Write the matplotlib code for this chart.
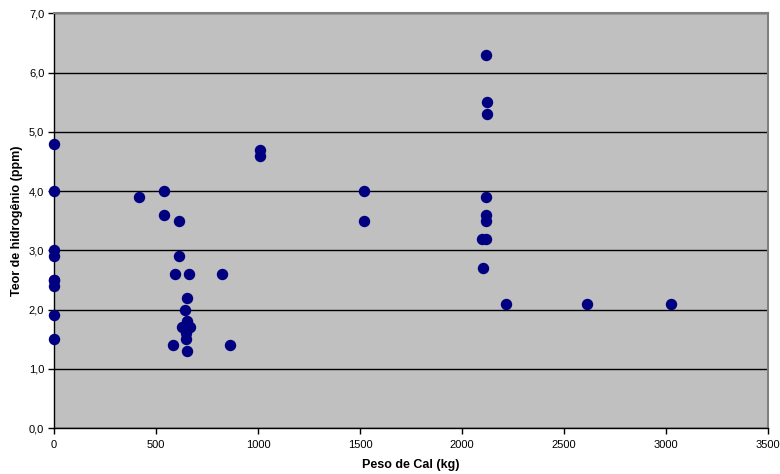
import matplotlib.pyplot as plt
from matplotlib.ticker import FuncFormatter

plt.rcParams['font.family'] = ['Liberation Sans', 'DejaVu Sans']

# Peso de cal (kg) e teor de hidrogênio (ppm)
peso_cal = [0, 0, 0, 0, 0, 0, 0, 0, 0,
            417, 540, 540, 615, 615, 594, 663, 823,
            653, 643, 653, 628, 668, 648, 646, 581, 864, 653,
            1011, 1011, 1522, 1522,
            2116, 2124, 2124, 2116, 2116, 2116, 2100, 2116, 2105, 2214,
            2612, 3024]
teor_h = [4.8, 4.0, 3.0, 2.9, 2.5, 2.5, 2.4, 1.9, 1.5,
          3.9, 4.0, 3.6, 3.5, 2.9, 2.6, 2.6, 2.6,
          2.2, 2.0, 1.8, 1.7, 1.7, 1.6, 1.5, 1.4, 1.4, 1.3,
          4.7, 4.6, 4.0, 3.5,
          6.3, 5.5, 5.3, 3.9, 3.6, 3.5, 3.2, 3.2, 2.7, 2.1,
          2.1, 2.1]

fig = plt.figure(figsize=(7.8, 4.74), dpi=100)
ax = fig.add_axes([54 / 780, 1 - 428 / 474, 714 / 780, 414.5 / 474])
ax.set_facecolor('#C0C0C0')

ax.set_xlim(0, 3500)
ax.set_ylim(0, 7)
ax.set_xticks(range(0, 3501, 500))
ax.set_yticks([i * 1.0 for i in range(8)])
ax.yaxis.set_major_formatter(FuncFormatter(lambda v, p: f'{v:.1f}'.replace('.', ',')))

ax.grid(axis='y', color='black', linewidth=1)
ax.set_axisbelow(True)

ax.scatter(peso_cal, teor_h, s=52, color='#000080', zorder=3, clip_on=False)

for s in ['top', 'right']:
    ax.spines[s].set_color('#808080')
    ax.spines[s].set_linewidth(1.5)
for s in ['left', 'bottom']:
    ax.spines[s].set_color('black')
    ax.spines[s].set_linewidth(1)

ax.tick_params(direction='out', length=4, width=1, labelsize=8, pad=3)
ax.tick_params(axis='x', pad=5)

ax.set_xlabel('Peso de Cal (kg)', fontsize=9, fontweight='bold', labelpad=6)
ax.set_ylabel('Teor de hidrogênio (ppm)', fontsize=9, fontweight='bold', labelpad=4)

fig.savefig('out.png', dpi=100)
